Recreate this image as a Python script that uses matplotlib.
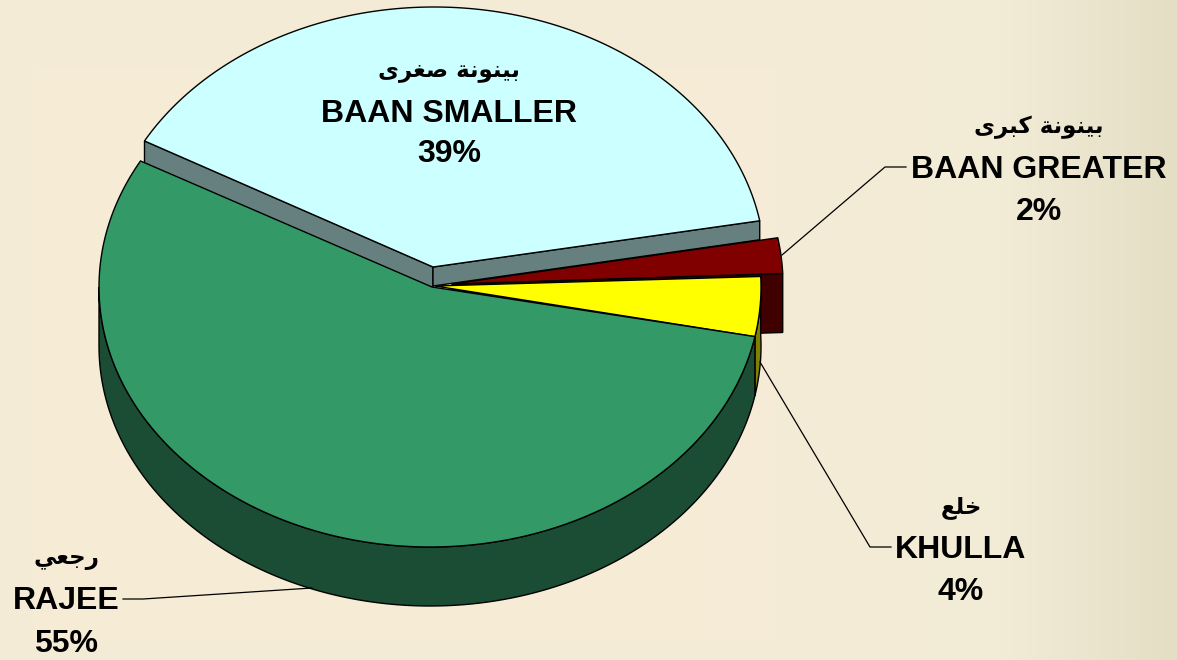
import numpy as np
import matplotlib
matplotlib.use('Agg')
import matplotlib.pyplot as plt

# fatias em sentido anti-horario a partir de RAJEE
nomes = ['RAJEE', 'KHULLA', 'BAAN GREATER', 'BAAN SMALLER']
valores = [55.0, 3.7, 2.2, 39.1]
rotulos = ['55%', '4%', '2%', '39%']
# arabe em formas de apresentacao, na ordem logica (invertido ao desenhar)
arabe = ['\ufead\ufe9f\ufecc\ufef2',
         '\ufea7\ufee0\ufeca',
         '\ufe91\ufef4\ufee8\ufeee\ufee7\ufe94 \ufedb\ufe92\ufeae\ufeef',
         '\ufe91\ufef4\ufee8\ufeee\ufee7\ufe94 \ufebb\ufed0\ufeae\ufeef']

cores_topo = ['#339966', '#ffff00', '#800000', '#ccffff']
cores_lado = ['#1b4d34', '#808000', '#400000', '#668080']

inicio = 151
rx, ry = 331, 260
prof = 59

angulos = np.array(valores) / sum(valores) * 360
limites = inicio + np.concatenate([[0], np.cumsum(angulos)])


def arco(cx, cy, a0, a1):
    t = np.radians(np.linspace(a0, a1, 200))
    return cx + rx * np.cos(t), cy - ry * np.sin(t)


def topo(ax, ap, centro, a0, a1, cor):
    x, y = arco(centro[0], centro[1], a0, a1)
    ax.fill(np.r_[ap[0], x], np.r_[ap[1], y], facecolor=cor, edgecolor='black', lw=1.0, joinstyle='miter')


def lado_arco(ax, centro, a0, a1, cor, p=prof):
    x, y = arco(centro[0], centro[1], a0, a1)
    ax.fill(np.r_[x, x[::-1]], np.r_[y, y[::-1] + p], facecolor=cor, edgecolor='black', lw=1.0)


def lado_corte(ax, ap, ponto, cor, p):
    xs = [ap[0], ponto[0], ponto[0], ap[0]]
    ys = [ap[1], ponto[1], ponto[1] + p, ap[1] + p]
    ax.fill(xs, ys, facecolor=cor, edgecolor='black', lw=1.0)


fig = plt.figure(figsize=(11.77, 6.6), dpi=100)
ax = fig.add_axes([0, 0, 1, 1])
ax.set_xlim(0, 1177)
ax.set_ylim(660, 0)
ax.axis('off')

# fundo em degrade
px = np.arange(1177)
py = np.arange(660)
pos = [0, 700, 1000, 1100, 1177]
cor_r = [247, 246, 242, 234, 228]
cor_g = [236, 236, 235, 228, 222]
cor_b = [214, 214, 214, 205, 196]
linha = np.stack([np.interp(px, pos, c) for c in (cor_r, cor_g, cor_b)], axis=1)
img = np.repeat(linha[None, :, :], 660, axis=0)
faixa = (py[:, None] < 70) | (px[None, :] < 33) | (py[:, None] > 640)
img[faixa] = np.minimum(img[faixa], np.array([243, 235, 214]))
ax.imshow(img.astype(np.uint8), extent=[0, 1177, 660, 0], aspect='auto', zorder=0)

# centro da elipse e vertice de cada fatia
centros = [(430, 287), (430, 287), (452, 284), (434, 267)]
vertices = [(432, 287), (435, 286), (452, 284), (433, 267)]

# BAAN SMALLER
a0, a1 = limites[3], limites[4]
topo_x, topo_y = arco(centros[3][0], centros[3][1], a1, a1)
lado_corte(ax, vertices[3], (topo_x[0], topo_y[0]), cores_lado[3], 26)
topo_x, topo_y = arco(centros[3][0], centros[3][1], a0, a0)
lado_corte(ax, vertices[3], (topo_x[0], topo_y[0]), cores_lado[3], 19)
topo(ax, vertices[3], centros[3], a0, a1, cores_topo[3])

# BAAN GREATER
a0, a1 = limites[2], limites[3]
topo_x, topo_y = arco(centros[2][0], centros[2][1], a0, a0)
lado_corte(ax, vertices[2], (topo_x[0], topo_y[0]), cores_lado[2], prof)
topo(ax, vertices[2], centros[2], a0, a1, cores_topo[2])

# laterais de KHULLA e RAJEE
lado_arco(ax, centros[1], limites[1], limites[2], cores_lado[1])
lado_arco(ax, centros[0], 180, limites[1], cores_lado[0])

# topos de KHULLA e RAJEE
topo(ax, vertices[1], centros[1], limites[1], limites[2], cores_topo[1])
topo(ax, vertices[0], centros[0], limites[0], limites[1], cores_topo[0])

# linhas de chamada
ax.plot([782, 885, 906], [255, 167, 167], color='black', lw=0.9)
ax.plot([760, 870, 891], [362, 547, 547], color='black', lw=0.9)
ax.plot([123, 143, 312], [599, 599, 588], color='black', lw=0.9, zorder=1.5)

# textos: (x, base arabe, base nome, base %)
pos_txt = [(66, 564, 609, 652), (961, 513, 558, 600), (1039, 133, 178, 220), (449, 76, 122, 162)]
for i in range(4):
    x, b1, b2, b3 = pos_txt[i]
    ax.text(x, b1, arabe[i][::-1], family='DejaVu Sans', weight='bold', fontsize=16.5,
            ha='center', va='baseline', color='black')
    ax.text(x, b2, nomes[i], family=['Liberation Sans', 'DejaVu Sans'], weight='bold', fontsize=23,
            ha='center', va='baseline', color='black')
    ax.text(x, b3, rotulos[i], family=['Liberation Sans', 'DejaVu Sans'], weight='bold', fontsize=23,
            ha='center', va='baseline', color='black')

fig.savefig('out.png', dpi=100)
